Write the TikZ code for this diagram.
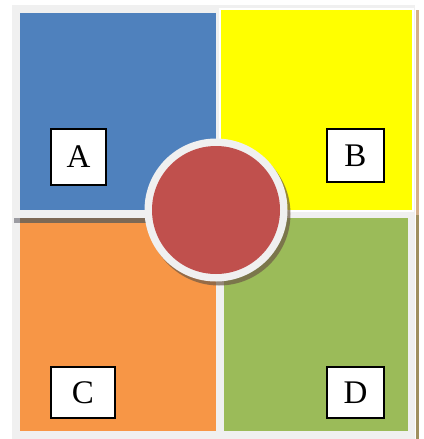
\documentclass[tikz,border=0pt]{standalone}
\usepackage{fontspec}
\setmainfont{Liberation Serif}
\begin{document}
\begin{tikzpicture}[x=1pt,y=-1pt,
  lbl/.style={draw=black,line width=1.6pt,fill=white,inner sep=0pt,font=\fontsize{33}{33}\selectfont},
  frame/.style={fill=black!6}]
\useasboundingbox (0,0) rectangle (423,439);
\fill[white] (0,0) rectangle (423,439);
% frame
\fill[frame] (12,5) rectangle (415,439);
% squares
\fill[fill={rgb,255:red,79;green,129;blue,189}] (20,13) rectangle (216,210);
\fill[white] (219,8) rectangle (414,212);
\fill[fill={rgb,255:red,255;green,255;blue,0}] (221,10) rectangle (412,210);
\fill[fill={rgb,255:red,247;green,150;blue,70}] (20,223) rectangle (216,431);
\fill[fill={rgb,255:red,155;green,187;blue,89}] (224,218) rectangle (408,431);
% shadows
\fill[fill={rgb,255:red,100;green,100;blue,110},opacity=0.6] (14,218) rectangle (20,223);
\fill[fill={rgb,255:red,125;green,105;blue,85}] (20,218) rectangle (216,223);
\fill[fill={rgb,255:red,212;green,176;blue,140}] (416,10) rectangle (419,215);
\fill[fill={rgb,255:red,160;green,144;blue,96}] (416,215) rectangle (419,439);
% centre circle
\fill[fill={rgb,255:red,110;green,90;blue,70},opacity=0.7] (219,214) circle (71.5);
\node[circle,fill=black!6,minimum size=143pt,inner sep=0pt] (ring) at (216,210) {};
\node[circle,fill={rgb,255:red,192;green,80;blue,77},minimum size=128pt,inner sep=0pt] (core) at (216,210) {};
% labels
\node[lbl,minimum width=55pt,minimum height=56pt] (A) at (78.5,157) {A};
\node[lbl,minimum width=57pt,minimum height=53pt] (B) at (355.5,155.5) {B};
\node[lbl,minimum width=64pt,minimum height=51pt] (C) at (83,392.5) {C};
\node[lbl,minimum width=57pt,minimum height=51pt] (D) at (355.5,392.5) {D};
\end{tikzpicture}
\end{document}
